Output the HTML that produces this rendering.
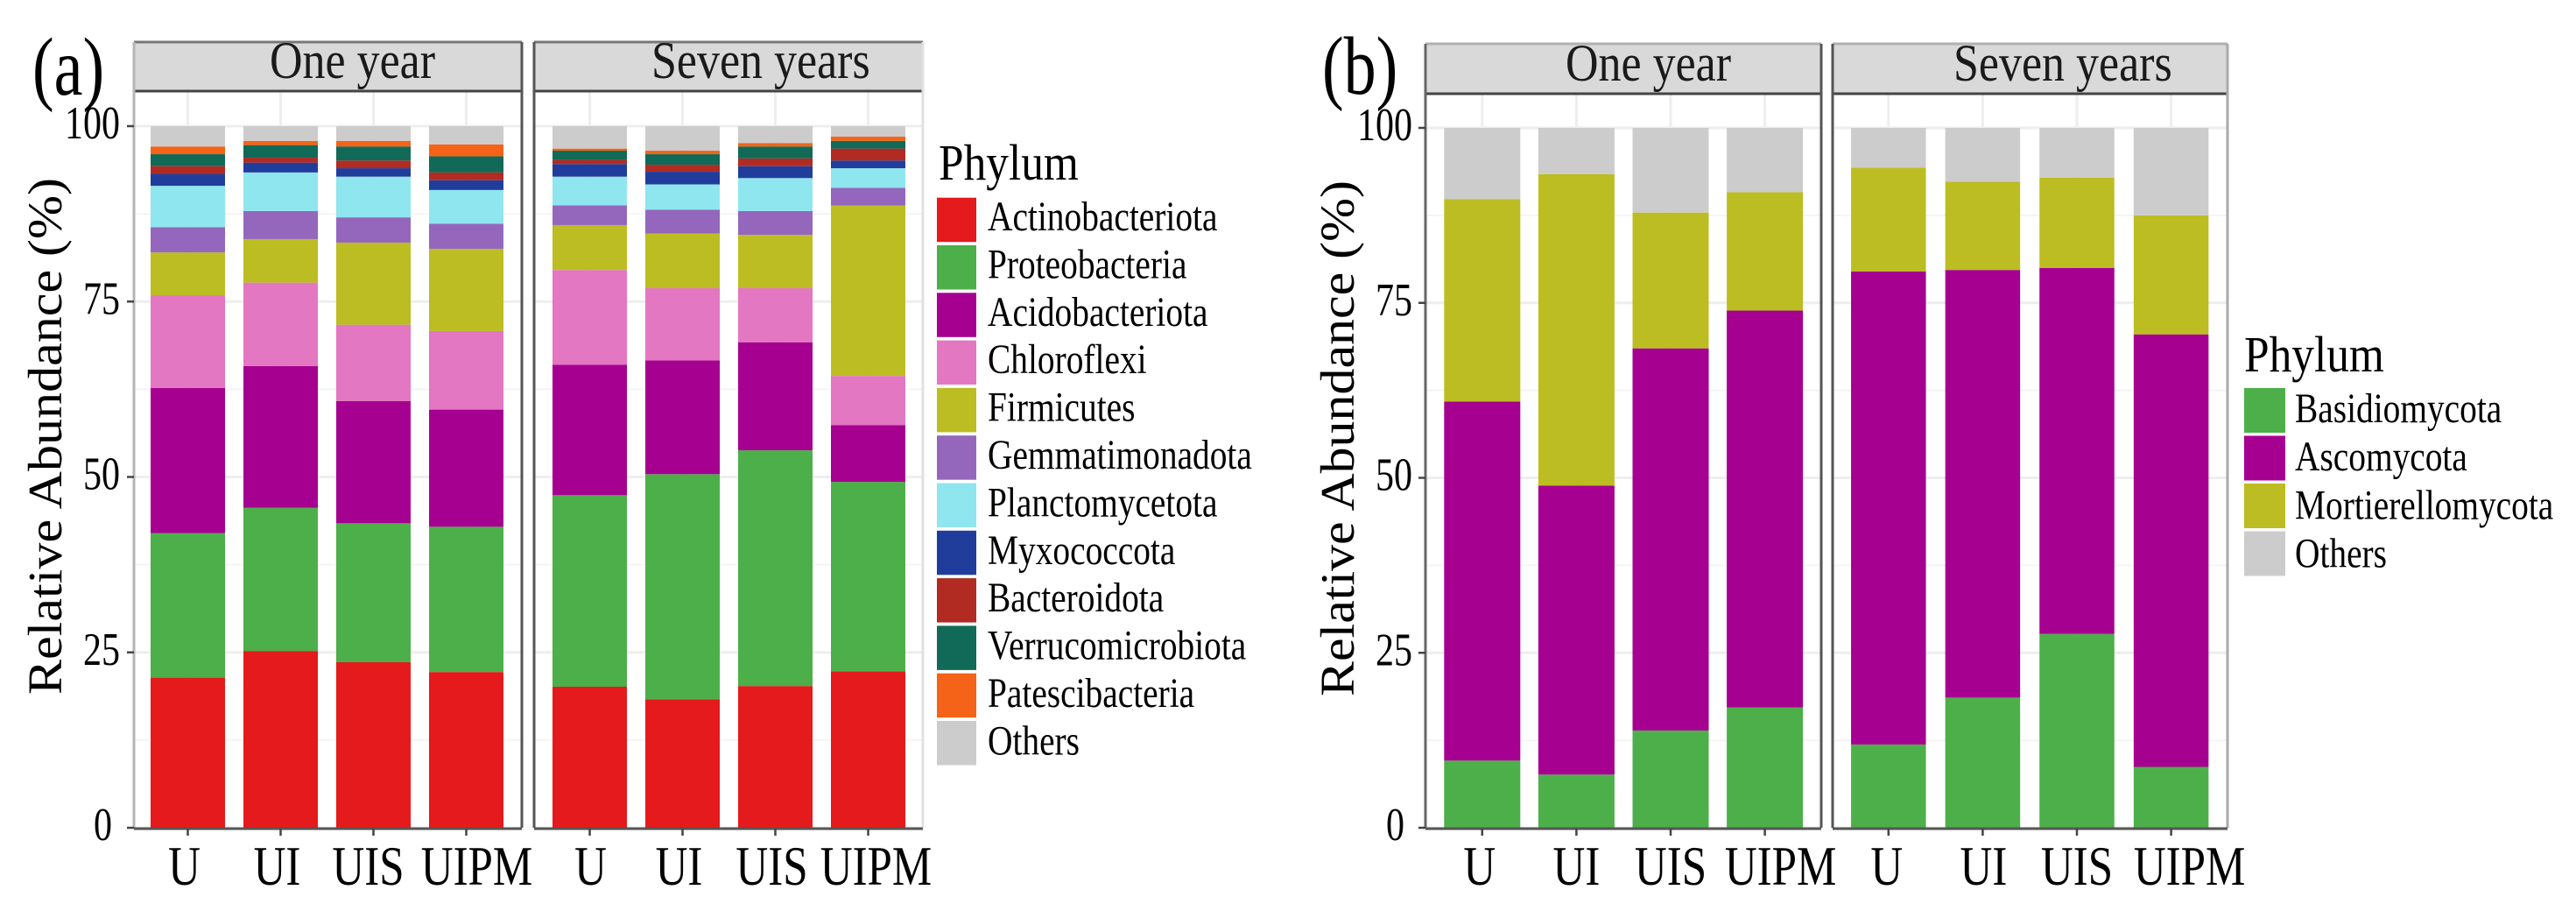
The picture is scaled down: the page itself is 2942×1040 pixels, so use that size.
<!DOCTYPE html>
<html lang="en">
<head>
<meta charset="utf-8">
<title>Relative abundance of bacterial and fungal phyla</title>
<style>
html,body{margin:0;padding:0;background:#fff;}
svg{display:block;}
text{font-family:"Liberation Serif","Times New Roman",serif;}
</style>
</head>
<body>
<svg id="figure" xmlns="http://www.w3.org/2000/svg" width="2942" height="1040" viewBox="0 0 2942 1040">
  <rect x="0" y="0" width="2942" height="1040" fill="#ffffff"/>
  <g id="chart-a"></g>
  <g id="chart-b"></g>
  <text transform="translate(37,108) scale(1,1.28)" font-size="74" fill="#000">(a)</text>
  <text transform="translate(1510,107) scale(1,1.28)" font-size="74" fill="#000">(b)</text>
  <text transform="translate(70,793) rotate(-90)" font-size="55" textLength="590" lengthAdjust="spacingAndGlyphs" fill="#000">Relative Abundance (%)</text>
  <text transform="translate(1546,795) rotate(-90)" font-size="55" textLength="589" lengthAdjust="spacingAndGlyphs" fill="#000">Relative Abundance (%)</text>
  <text transform="translate(1072,205) scale(1,1.13)" font-size="51.4" fill="#000">Phylum</text>
  <text transform="translate(2563,424) scale(1,1.13)" font-size="51.4" fill="#000">Phylum</text>
</svg>
<script>
// ---------- data: values (percent) ----------
const sampleLabels = ['U', 'UI', 'UIS', 'UIPM'];
const yTickLabels = ['0', '25', '50', '75', '100'];
const yTickValues = [0, 25, 50, 75, 100];
const yMinorValues = [12.5, 37.5, 62.5, 87.5];
const facetLabels = ['One year', 'Seven years'];

// bacteria: first four values = One year, last four = Seven years
const bacteriaPhyla = ['Actinobacteriota', 'Proteobacteria', 'Acidobacteriota', 'Chloroflexi', 'Firmicutes', 'Gemmatimonadota', 'Planctomycetota', 'Myxococcota', 'Bacteroidota', 'Verrucomicrobiota', 'Patescibacteria', 'Others'];
const actinobacteriota = [21.4, 25.2, 23.6, 22.2, 20.1, 18.3, 20.2, 22.3];
const proteobacteria = [20.6, 20.4, 19.8, 20.7, 27.3, 32.1, 33.6, 27.0];
const acidobacteriota = [20.7, 20.2, 17.4, 16.7, 18.6, 16.2, 15.4, 8.1];
const chloroflexi = [13.2, 11.9, 10.9, 11.2, 13.5, 10.3, 7.7, 7.0];
const firmicutes = [6.1, 6.2, 11.7, 11.7, 6.4, 7.8, 7.6, 24.3];
const gemmatimonadota = [3.6, 4.0, 3.6, 3.6, 2.8, 3.4, 3.4, 2.5];
const planctomycetota = [5.9, 5.5, 5.8, 4.8, 4.1, 3.6, 4.7, 2.8];
const myxococcota = [1.7, 1.4, 1.2, 1.4, 1.8, 1.8, 1.7, 1.1];
const bacteroidota = [1.1, 0.7, 1.1, 1.1, 0.6, 1.0, 1.1, 1.7];
const verrucomicrobiota = [1.7, 1.8, 2.0, 2.3, 1.3, 1.5, 1.7, 1.1];
const patescibacteria = [1.1, 0.6, 0.8, 1.7, 0.3, 0.5, 0.5, 0.6];
const bacteriaOthers = [2.9, 2.1, 2.1, 2.6, 3.2, 3.5, 2.4, 1.5];

// fungi: first four values = One year, last four = Seven years
const fungiPhyla = ['Basidiomycota', 'Ascomycota', 'Mortierellomycota', 'Others'];
const basidiomycota = [9.6, 7.6, 13.9, 17.2, 11.9, 18.6, 27.7, 8.7];
const ascomycota = [51.3, 41.3, 54.6, 56.7, 67.6, 61.1, 52.3, 61.8];
const mortierellomycota = [28.9, 44.5, 19.4, 16.9, 14.8, 12.6, 12.9, 17.0];
const fungiOthers = [10.2, 6.6, 12.1, 9.2, 5.7, 7.7, 7.1, 12.5];

const bacteriaSeries = [actinobacteriota, proteobacteria, acidobacteriota, chloroflexi, firmicutes, gemmatimonadota, planctomycetota, myxococcota, bacteroidota, verrucomicrobiota, patescibacteria, bacteriaOthers];
const fungiSeries = [basidiomycota, ascomycota, mortierellomycota, fungiOthers];

// ---------- style ----------
const bacteriaColors = ['#e41a1c', '#4daf4a', '#a60090', '#e377c2', '#bcbd22', '#9467bd', '#8fe6ef', '#213d9c', '#b12b23', '#106a57', '#f46317', '#cccccc'];
const fungiColors = ['#4daf4a', '#a60090', '#bcbd22', '#cccccc'];

const NS = 'http://www.w3.org/2000/svg';
function el(parent, tag, attrs) {
  const n = document.createElementNS(NS, tag);
  for (const k in attrs) n.setAttribute(k, attrs[k]);
  parent.appendChild(n);
  return n;
}
function label(parent, str, x, y, size, sy, anchor, fill) {
  const t = el(parent, 'text', {
    transform: 'translate(' + x + ',' + y + ') scale(1,' + sy + ')',
    'font-size': size,
    'text-anchor': anchor,
    fill: fill
  });
  t.textContent = str;
  return t;
}

function drawChart(root, cfg) {
  const yScale = v => cfg.yZero - v * cfg.yUnit;

  cfg.panels.forEach((p, pi) => {
    const xScale = i => p.first + i * p.step;
    const panel = el(root, 'g', {});
    
    

    // minor horizontal gridlines
    yMinorValues.forEach(v => {
      const g = el(panel, 'line', { x1: p.x0, x2: p.x1, y1: yScale(v), y2: yScale(v), stroke: '#f4f4f4', 'stroke-width': 2 });
      
      
    });
    // major horizontal gridlines
    yTickValues.forEach(v => {
      const g = el(panel, 'line', { x1: p.x0, x2: p.x1, y1: yScale(v), y2: yScale(v), stroke: '#eeeeee', 'stroke-width': 3 });
      
      
    });
    // vertical gridlines
    sampleLabels.forEach((s, i) => {
      const g = el(panel, 'line', { x1: xScale(i), x2: xScale(i), y1: cfg.panelTop, y2: cfg.yZero, stroke: '#eeeeee', 'stroke-width': 3 });
      
      
    });

    // stacked bars
    sampleLabels.forEach((s, i) => {
      const index = pi * sampleLabels.length + i;
      let base = 0;
      cfg.series.forEach((values, si) => {
        const v = values[index];
        const r = el(panel, 'rect', {
          x: xScale(i) - p.barWidth / 2,
          y: yScale(base + v),
          width: p.barWidth,
          height: v * cfg.yUnit,
          fill: cfg.colors[si]
        });
        
        
        base += v;
      });
    });

    // strip
    const strip = el(panel, 'rect', { x: p.x0, y: cfg.stripTop, width: p.x1 - p.x0, height: cfg.panelTop - cfg.stripTop, fill: '#d9d9d9' });
    
    
    const stripTopLine = el(panel, 'line', { x1: p.x0, x2: p.x1, y1: cfg.stripTop, y2: cfg.stripTop, stroke: p.stripTopColor, 'stroke-width': 3 });
    
    
    const stripBottomLine = el(panel, 'line', { x1: p.x0, x2: p.x1, y1: cfg.panelTop, y2: cfg.panelTop, stroke: '#444444', 'stroke-width': 3 });
    
    
    const stripText = label(panel, facetLabels[pi], p.stripTextX, cfg.stripBaseline, 52, 1.16, 'start', '#1a1a1a');
    
    

    // panel borders
    const leftBorder = el(panel, 'line', { x1: p.x0, x2: p.x0, y1: cfg.stripTop, y2: cfg.yZero, stroke: p.leftColor, 'stroke-width': 3 });
    
    
    const rightBorder = el(panel, 'line', { x1: p.x1, x2: p.x1, y1: cfg.stripTop, y2: cfg.yZero, stroke: p.rightColor, 'stroke-width': 3 });
    
    
    const bottomBorder = el(panel, 'line', { x1: p.x0, x2: p.x1, y1: cfg.yZero + 1, y2: cfg.yZero + 1, stroke: '#555555', 'stroke-width': 3 });
    
    

    // x ticks and labels
    sampleLabels.forEach((s, i) => {
      const tk = el(panel, 'line', { x1: xScale(i), x2: xScale(i), y1: cfg.yZero + 1, y2: cfg.yZero + 9, stroke: '#444444', 'stroke-width': 2.5 });
      
      
      const t = label(panel, s, xScale(i) + p.labelDx[i], 1010, 51, 1.25, 'middle', '#000');
      
      
    });
  });

  // y ticks and labels
  const left = cfg.panels[0].x0;
  yTickValues.forEach((v, i) => {
    const tk = el(root, 'line', { x1: left - 8, x2: left, y1: yScale(v), y2: yScale(v), stroke: '#444444', 'stroke-width': 2.5 });
    
    
    const dx = yTickLabels[i] === '0' ? -9 : 0;
    const t = label(root, yTickLabels[i], cfg.yLabelRight + dx, yScale(v) + 14, 42, 1.25, 'end', '#000');
    
    
  });

  // legend
  cfg.legendNames.forEach((name, i) => {
    const entry = el(root, 'g', {});
    
    
    const sw = el(entry, 'rect', { x: cfg.legendX, y: cfg.legendY + i * cfg.legendPitch, width: cfg.legendSwatchW, height: cfg.legendSwatchH, fill: cfg.colors[i] });
    
    
    const t = label(entry, name, cfg.legendTextX, cfg.legendBaseline + i * cfg.legendTextPitch, 39.4, 1.2, 'start', '#000');
    
    
  });
}

drawChart(document.getElementById('chart-a'), {
  series: bacteriaSeries,
  colors: bacteriaColors,
  legendNames: bacteriaPhyla,
  yZero: 945, yUnit: 8.01, panelTop: 104, stripTop: 48, stripBaseline: 89,
  yLabelRight: 137,
  legendX: 1070, legendY: 225.7, legendPitch: 54.3, legendSwatchW: 45, legendSwatchH: 50.5,
  legendTextX: 1128, legendBaseline: 263, legendTextPitch: 54.4,
  panels: [
    { x0: 153, x1: 596, first: 214.5, step: 106, barWidth: 85, stripTextX: 308, leftColor: '#b5b5b5', rightColor: '#555555', stripTopColor: '#777777', labelDx: [-4, -4, -6, 12] },
    { x0: 610, x1: 1054, first: 673.5, step: 106, barWidth: 85, stripTextX: 744, leftColor: '#555555', rightColor: '#e0e0e0', stripTopColor: '#777777', labelDx: [1, -4, -4, 9] }
  ]
});

drawChart(document.getElementById('chart-b'), {
  series: fungiSeries,
  colors: fungiColors,
  legendNames: fungiPhyla,
  yZero: 945, yUnit: 7.99, panelTop: 107, stripTop: 50, stripBaseline: 92,
  yLabelRight: 1613,
  legendX: 2563, legendY: 443, legendPitch: 54.5, legendSwatchW: 47, legendSwatchH: 51,
  legendTextX: 2621, legendBaseline: 482, legendTextPitch: 55.2,
  panels: [
    { x0: 1628, x1: 2080, first: 1692.8, step: 107.6, barWidth: 87, stripTextX: 1788, leftColor: '#666666', rightColor: '#555555', stripTopColor: '#b0b0b0', labelDx: [-3, 0, 0, 18] },
    { x0: 2093, x1: 2544, first: 2156.8, step: 107.6, barWidth: 85.5, stripTextX: 2231, leftColor: '#555555', rightColor: '#aaaaaa', stripTopColor: '#b0b0b0', labelDx: [-2, 1, 0, 21] }
  ]
});
</script>
</body>
</html>
